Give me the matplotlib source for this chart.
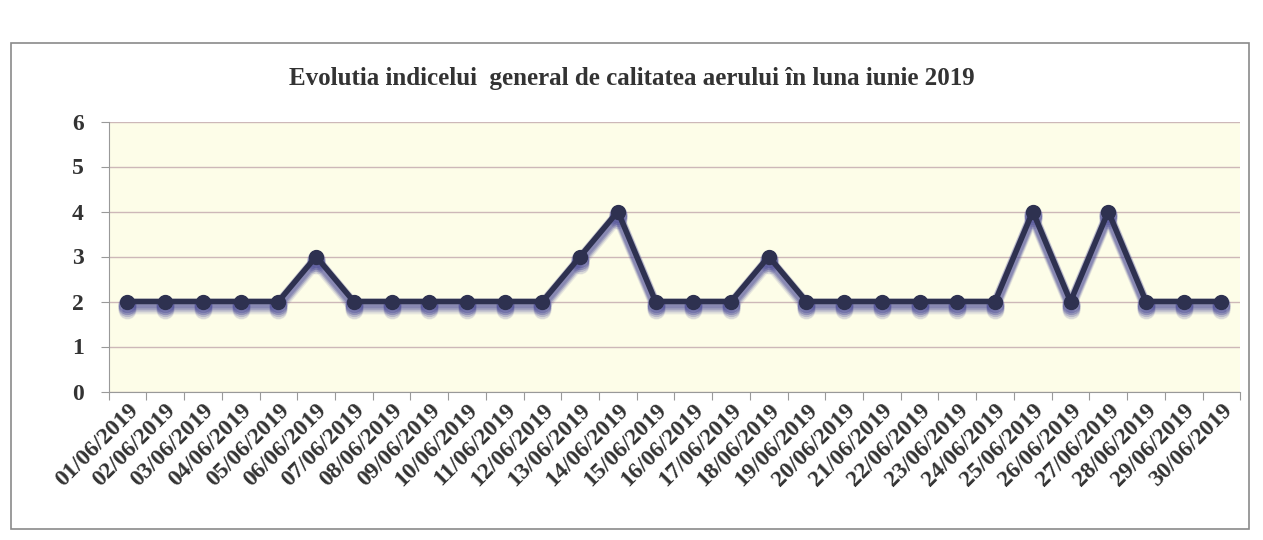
import numpy as np
import matplotlib.pyplot as plt
import matplotlib.transforms as mtransforms
from matplotlib.patches import Rectangle

days = [f"{d:02d}/06/2019" for d in range(1, 31)]
index_values = [2, 2, 2, 2, 2, 3, 2, 2, 2, 2, 2, 2, 3, 4, 2,
                2, 2, 3, 2, 2, 2, 2, 2, 2, 4, 2, 4, 2, 2, 2]
y_ticks = [0, 1, 2, 3, 4, 5, 6]
title = "Evolutia indicelui  general de calitatea aerului în luna iunie 2019"

plt.rcParams['font.family'] = ['Liberation Serif', 'DejaVu Serif']

fig = plt.figure(figsize=(12.63, 5.4), dpi=100)
fig.patch.set_facecolor("white")

# chart frame
fig.patches.append(Rectangle((0.009, 0.02), 0.98, 0.9, transform=fig.transFigure,
                             fill=False, edgecolor="#8a8a8a", linewidth=1.2))

ax = fig.add_axes([0.086, 0.275, 0.896, 0.5])
ax.set_facecolor("#fdfde8")

x = np.arange(len(days))

# soft shadow under the series (offset copies)
for off, a in [(-8, 0.12), (-6, 0.2), (-4, 0.3), (-2, 0.3)]:
    shadow_tr = mtransforms.offset_copy(ax.transData, fig=fig, x=0, y=off, units="dots")
    ax.plot(x, index_values, color="#50509a", linewidth=7, marker="o",
            markersize=12, alpha=a, transform=shadow_tr, zorder=2)

ax.plot(x, index_values, color="#2e3150", linewidth=4, marker="o",
        markersize=10, zorder=3)

ax.set_xlim(-0.5, len(days) - 0.5)
ax.set_ylim(0, 6)
ax.set_yticks(y_ticks)
ax.set_yticklabels([str(t) for t in y_ticks], fontsize=17, fontweight="bold", color="#333333")
ax.grid(axis="y", color="#cdb8b8", linewidth=1)
ax.set_axisbelow(True)

ax.set_xticks(np.arange(-0.5, len(days)), minor=False)
ax.set_xticklabels([])
ax.set_xticks(x, minor=True)
ax.set_xticklabels(days, minor=True, rotation=45, ha="right", rotation_mode="anchor",
                   fontsize=17, fontweight="bold", color="#333333")
ax.tick_params(axis="x", which="major", length=6, color="#999999", direction="out")
ax.tick_params(axis="x", which="minor", length=0, pad=6)
ax.tick_params(axis="y", length=6, color="#999999", pad=12)

for s in ["top", "right"]:
    ax.spines[s].set_visible(False)
for s in ["left", "bottom"]:
    ax.spines[s].set_color("#999999")

fig.text(0.5, 0.855, title, ha="center", va="center", fontsize=18,
         fontweight="bold", color="#333333")

fig.savefig("out.png", dpi=100)
